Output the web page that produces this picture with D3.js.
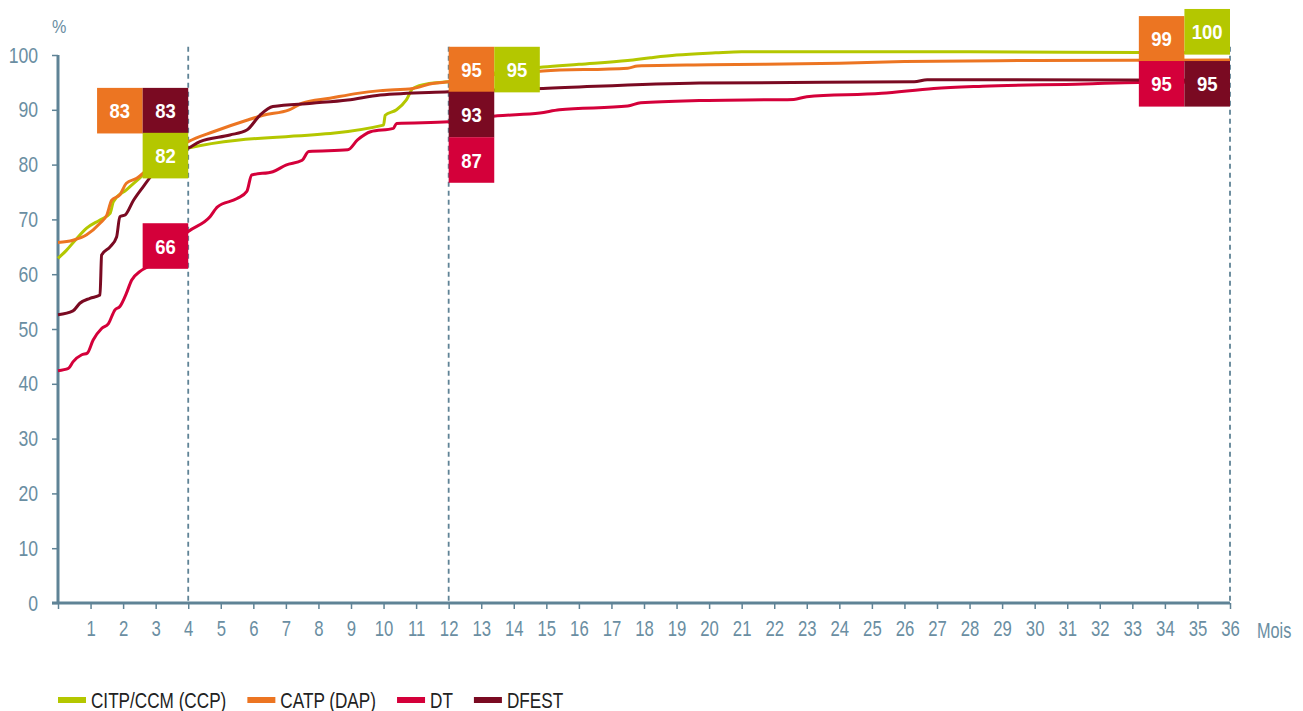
<!DOCTYPE html>
<html lang='fr'>
<head>
  <meta charset='UTF-8'>
  <title>Taux cumulé</title>
  <style>
  body { margin: 0; background: #fff; }
  svg text { font-family: 'Liberation Sans', Arial, sans-serif; }
  .axis text { fill: #6a8ea2; font-size: 22px; }
  .box text { fill: #fff; font-size: 21px; font-weight: bold; }
  .legend text { fill: #222; font-size: 22px; }
  </style>
  <script src="https://d3js.org/d3.v7.min.js"></script>
</head>
<body>
  <script>

  // data: [month, %]
  var citp = [[0,62.9],[0.25,64.3],[0.53,66.2],[0.88,68.4],[1.29,69.9],[1.6,71.1],[1.7,73.2],[2.1,75.4],
    [2.5,77.5],[2.8,79],[3.2,80.5],[3.6,82],[4,83],[10,87.2],[10.05,89],[10.4,90],[10.7,91.8],
    [10.9,93.9],[11.4,94.8],[12,95.1],[13,96.3],[14.9,97.8],[16,98.3],[17.5,99],[18.2,99.5],[19,100],
    [20.2,100.4],[21,100.6],[28,100.6],[33.2,100.45],[36,100.4]];
  var catp = [[0,65.8],[0.46,66.2],[0.88,67.2],[1.29,69.3],[1.5,70.8],[1.65,73.5],[1.9,74.5],[2.1,76.6],
    [2.42,77.5],[2.72,79],[3.2,81],[3.6,82.8],[4,84.2],[4.77,86],[5.8,88.1],[6.3,89],[7.1,90],[7.5,91.2],
    [8.35,92.1],[9.2,93],[9.9,93.5],[10.9,93.9],[11.5,94.8],[12,95.1],[13.5,96.5],[14.9,97.1],[17.5,97.6],
    [17.8,98],[20,98.2],[24,98.5],[26,98.8],[30,99],[36,99.1]];
  var dt = [[0,42.4],[0.32,42.8],[0.46,44],[0.73,45.3],[0.9,45.6],[1.08,48],[1.34,50.1],[1.55,51],
    [1.75,53.5],[1.9,54.1],[2.1,56.5],[2.26,58.9],[2.52,60.5],[2.8,61.5],[3.2,63.5],[3.6,65.8],[4,67.8],
    [4.67,70.5],[4.9,72.3],[5.5,73.8],[5.8,75.1],[5.95,78.1],[6.6,78.7],[7,79.9],[7.5,80.8],[7.7,82.4],
    [8.9,82.7],[9.2,84.5],[9.6,86],[10.3,86.6],[10.4,87.5],[12,87.8],[13.5,88.9],[14.8,89.4],[15.4,90],
    [17.5,90.7],[17.9,91.3],[19.7,91.7],[22.6,91.9],[23,92.4],[25.3,93],[26.9,93.9],[28.4,94.3],
    [31.5,94.7],[33.2,95],[36,95.1]];
  var dfest = [[0,52.6],[0.46,53.3],[0.67,54.7],[0.98,55.6],[1.29,56.2],[1.34,63.5],[1.6,65],[1.8,66.8],
    [1.9,70.5],[2.06,70.8],[2.32,73.5],[2.62,76],[2.93,78.4],[3.3,80.5],[3.7,82.3],[4,83],[4.36,84.2],
    [5.28,85.4],[5.8,86.3],[6.2,89],[6.6,90.6],[7.8,91.2],[8.9,91.8],[9.9,92.7],[12,93.3],[14.9,93.9],
    [19.7,94.9],[26.3,95.1],[26.7,95.5],[36,95.4]];

  var seriesNames = ['CITP/CCM (CCP)', 'CATP (DAP)', 'DT', 'DFEST'];
  var seriesData = [citp, catp, dt, dfest];
  var seriesColors = ['#b4c700', '#ec7522', '#d4003a', '#7a0a22'];

  var markerMonths = [4, 12, 36];
  var labelSeries = [1, 3, 0, 2, 1, 0, 3, 2, 1, 0, 2, 3];
  var labelValues = [83, 83, 82, 66, 95, 95, 93, 87, 99, 100, 95, 95];
  // where each box sits: [anchor month, column from anchor, top in % units]
  var labelPlace = [[4,-2,94],[4,-1,94],[4,-1,85.8],[4,-1,69.3],
    [12,0,101.5],[12,1,101.5],[12,0,93.3],[12,0,85],
    [36,-2,107.1],[36,-1,108.4],[36,-2,98.9],[36,-1,98.9]];

  var yTicks = d3.range(0, 101, 10);
  var xTicks = d3.range(0, 37, 1);

  var svgWidth = 1303, svgHeight = 711;
  var margin = { top: 55, right: 73, bottom: 108, left: 58 };
  var width = svgWidth - margin.left - margin.right;
  var height = svgHeight - margin.top - margin.bottom;
  var axisColor = '#5f8396';

  // squeeze text horizontally around its own x, the original uses a condensed face
  function narrow(sel, k) {
    sel.each(function () {
      var x0 = +(this.getAttribute('x') || 0);
      d3.select(this).attr('transform',
        'translate(' + x0 + ',0) scale(' + k + ',1) translate(' + (-x0) + ',0)');
    });
  }

  var svg = d3.select('body').append('svg').attr('width', svgWidth).attr('height', svgHeight);
  var g = svg.append('g').attr('transform', 'translate(' + margin.left + ',' + margin.top + ')');

  var x = d3.scaleLinear().domain([0, 36]).range([0, width]);
  var y = d3.scaleLinear().domain([0, 100]).range([height, 0]);

  // axes

  var yAxis = g.append('g')
    .attr('class', 'axis')
    .call(d3.axisLeft(y).tickValues(yTicks).tickSize(6).tickPadding(14));
  yAxis.select('.domain').attr('stroke', axisColor).attr('stroke-width', 3).attr('d', 'M0,0V' + height);
  yAxis.selectAll('.tick line').attr('stroke', axisColor).attr('stroke-width', 1.5);
  yAxis.selectAll('.tick text').call(narrow, 0.8);

  var xAxis = g.append('g')
    .attr('class', 'axis')
    .attr('transform', 'translate(0,' + height + ')')
    .call(d3.axisBottom(x).tickValues(xTicks).tickSize(6).tickPadding(11)
      .tickFormat(function (d) { return d === 0 ? '' : d; }));
  xAxis.select('.domain').attr('stroke', axisColor).attr('stroke-width', 3).attr('d', 'M-6,0H' + width);
  xAxis.selectAll('.tick line').attr('stroke', axisColor).attr('stroke-width', 1.5);
  xAxis.selectAll('.tick text').call(narrow, 0.76);

  g.append('text')
    .attr('x', x(36) + 27)
    .attr('y', height + 35)
    .style('fill', '#6a8ea2').style('font-size', '22px')
    .text('Mois')
    .call(narrow, 0.74);

  g.append('text')
    .attr('x', -6)
    .attr('y', -22)
    .style('fill', '#6a8ea2').style('font-size', '19px')
    .text('%')
    .call(narrow, 0.85);

  // dashed reference lines

  g.selectAll('.marker')
    .data(markerMonths)
    .enter()
    .append('line')
    .attr('class', 'marker')
    .attr('x1', function (d) { return x(d); })
    .attr('x2', function (d) { return x(d); })
    .attr('y1', y(101.5))
    .attr('y2', y(0))
    .attr('stroke', axisColor)
    .attr('stroke-width', 1.8)
    .attr('stroke-dasharray', '5,4');

  // lines

  var line = d3.line()
    .x(function (d) { return x(d[0]); })
    .y(function (d) { return y(d[1]); })
    .curve(d3.curveMonotoneX);

  g.selectAll('.series')
    .data(seriesData)
    .enter()
    .append('path')
    .attr('class', 'series')
    .attr('fill', 'none')
    .attr('stroke', function (d, i) { return seriesColors[i]; })
    .attr('stroke-width', 3)
    .attr('stroke-linejoin', 'round')
    .attr('d', line);

  // value boxes

  var boxW = x(1.4) - x(0);
  var box = g.selectAll('.box')
    .data(labelValues)
    .enter()
    .append('g')
    .attr('class', 'box')
    .attr('transform', function (d, i) {
      var p = labelPlace[i];
      return 'translate(' + (x(p[0]) + p[1] * boxW) + ',' + y(p[2]) + ')';
    });

  box.append('rect')
    .attr('width', boxW)
    .attr('height', boxW)
    .attr('fill', function (d, i) { return seriesColors[labelSeries[i]]; });

  box.append('text')
    .attr('x', boxW / 2)
    .attr('y', boxW / 2)
    .attr('dy', '.36em')
    .attr('text-anchor', 'middle')
    .text(function (d) { return d; })
    .call(narrow, 0.88);

  // legend

  var legend = svg.append('g').attr('class', 'legend').attr('transform', 'translate(58,700)');
  var lx = 0;
  seriesNames.forEach(function (name, i) {
    var item = legend.append('g').attr('transform', 'translate(' + lx + ',0)');
    item.append('rect')
      .attr('y', -3)
      .attr('width', 28)
      .attr('height', 6)
      .attr('fill', seriesColors[i]);
    var t = item.append('text')
      .attr('x', 33)
      .attr('dy', '.36em')
      .text(name);
    var w = t.node().getComputedTextLength() * 0.78;
    t.call(narrow, 0.78);
    lx += 33 + w + 21;
  });
  </script>
</body>
</html>
